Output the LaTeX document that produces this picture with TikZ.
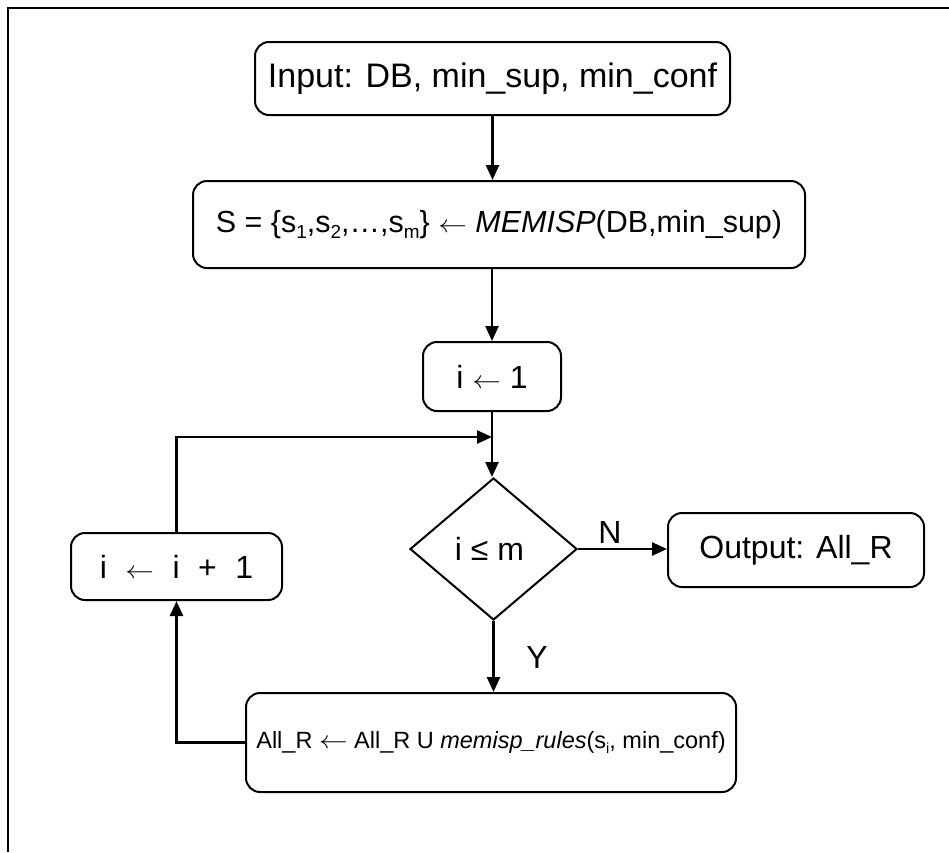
\documentclass[tikz,border=0pt]{standalone}
\usepackage{graphicx}
\usepackage{fontspec}
\setmainfont{Liberation Sans}
\usetikzlibrary{shapes.geometric,arrows.meta}
% long thin assignment arrow and low subscripts
\newcommand{\getsarrow}{\scalebox{1.15}[1]{\ensuremath{\leftarrow}}}
\newcommand{\lowsub}[1]{\raisebox{-0.22em}{\fontsize{0.62em}{0.62em}\selectfont #1}}
\newcommand{\gap}{\hspace{0.3em}}
\begin{document}
\begin{tikzpicture}[x=1pt,y=-1pt,
  box/.style={draw, line width=2pt, rounded corners=14pt, inner sep=0pt,
    align=center, font=\fontsize{32}{38}\selectfont},
  smallbox/.style={box, font=\fontsize{23.5}{28}\selectfont},
  decision/.style={draw, diamond, line width=2pt, inner sep=0pt,
    font=\fontsize{32}{38}\selectfont},
  flow/.style={line width=2.5pt, -{Triangle[length=15pt,width=13pt]}},
  plain/.style={line width=2.5pt},
  lbl/.style={font=\fontsize{32}{38}\selectfont, inner sep=0pt}]
\useasboundingbox (0,0) rectangle (949,852);
% open page frame
\draw[plain] (8,852) -- (8,8) -- (949,8);

% steps
\node[box, font=\fontsize{34}{40}\selectfont, minimum width=475pt, minimum height=73pt] (input) at (492.5,78.5)
  {Input: DB, min\_sup, min\_conf};
\node[box, font=\fontsize{30.5}{36}\selectfont, minimum width=612pt, minimum height=87pt] (S) at (499,224.5)
  {S = \{s\lowsub{1},s\lowsub{2},\ldots,s\lowsub{m}\} \getsarrow{} \textit{MEMISP}(DB,min\_sup)};
\node[box, minimum width=138pt, minimum height=69pt] (init) at (492,376.5)
  {i \getsarrow{} 1};
\node[decision, minimum width=167pt, minimum height=142pt] (cond) at (493.5,549)
  {\hspace{-8pt}i ≤ m};
\node[box, minimum width=256pt, minimum height=74pt] (out) at (796,550)
  {Output: All\_R};
\node[box, minimum width=211pt, minimum height=67pt] (inc) at (176.5,566.5)
  {i\gap{} \getsarrow{}\gap{} i\gap{} +\gap{} 1};
\node[smallbox, minimum width=490pt, minimum height=99pt] (upd) at (491,742.5)
  {All\_R \getsarrow{} All\_R U \textit{memisp\_rules}(s\lowsub{i}, min\_conf)};

% connectors
\coordinate (join) at (492,437);
\draw[flow] (input.south) -- (input.south |- S.north);
\draw[flow] (S.south -| init.north) -- (init.north);
\draw[flow] (init.south) -- (init.south |- cond.north);
\draw[flow] (inc.north) |- (join);
\draw[flow] (cond.east) -- (cond.east -| out.west);
\draw[flow] (cond.south) -- (cond.south |- upd.north);
\draw[flow] (upd.west) -| (inc.south);

% branch labels
\node[lbl] (nlab) at (610,532) {N};
\node[lbl] (ylab) at (537,657) {Y};
\end{tikzpicture}
\end{document}
